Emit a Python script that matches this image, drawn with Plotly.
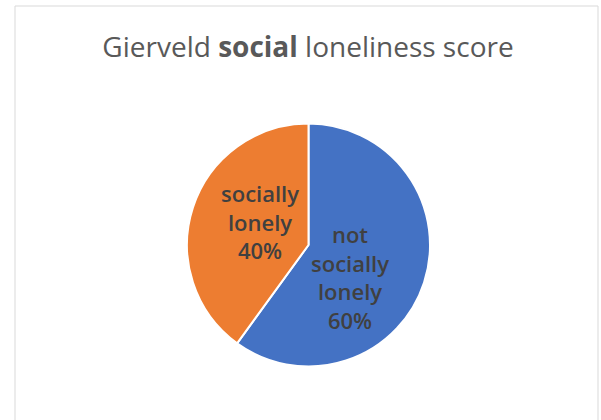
import plotly.graph_objects as go

categories = ["not socially lonely", "socially lonely"]
values = [60, 40]
label_text = ["not<br>socially<br>lonely", "socially<br>lonely"]
colors = ["#4472C4", "#ED7D31"]

W, H = 601, 420
cx, cy, r = 308.5, 245, 121.5

# label anchor positions (pixels) for the data labels
label_pos = [(350, 277), (260, 221)]

total = sum(values)

fig = go.Figure(go.Pie(
    labels=categories,
    values=values,
    textinfo="none",
    marker=dict(colors=colors, line=dict(color="white", width=2)),
    sort=False,
    direction="clockwise",
    rotation=0,
    showlegend=False,
    hoverinfo="label+percent",
    domain=dict(x=[(cx - r) / W, (cx + r) / W], y=[1 - (cy + r) / H, 1 - (cy - r) / H]),
))

annotations = []
for txt, v, (px, py) in zip(label_text, values, label_pos):
    annotations.append(dict(
        text=f"{txt}<br>{round(100 * v / total)}%",
        x=px / W, y=1 - py / H, xref="paper", yref="paper",
        xanchor="center", yanchor="middle", showarrow=False, align="center",
        font=dict(family="Open Sans", size=22, color="#404040", weight=600),
    ))

fig.update_layout(
    width=W, height=H,
    margin=dict(l=0, r=0, t=0, b=0),
    paper_bgcolor="white",
    plot_bgcolor="white",
    title=dict(
        text="Gierveld <b>social</b> loneliness score",
        x=308 / W, xanchor="center",
        y=1 - 47 / H, yanchor="middle", yref="container",
        font=dict(family="Open Sans", size=28, color="#595959"),
    ),
    annotations=annotations,
    shapes=[dict(type="rect", xref="paper", yref="paper",
                 x0=15 / W, x1=598 / W, y0=-0.02, y1=1 - 6 / H,
                 line=dict(color="#D9D9D9", width=1), fillcolor="rgba(0,0,0,0)")],
)

fig.write_html("out.html")
